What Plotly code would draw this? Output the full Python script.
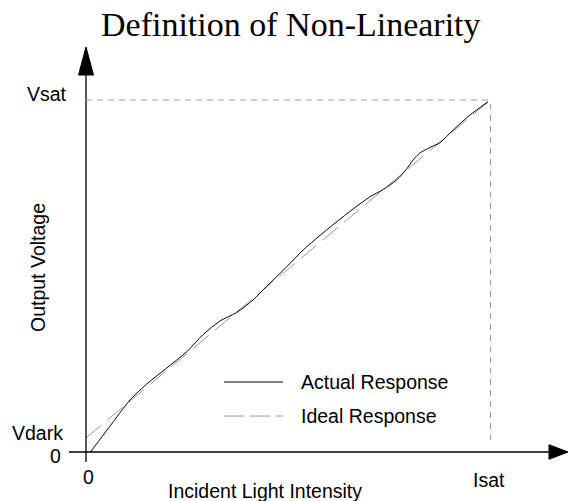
import plotly.graph_objects as go

# ---------------- data ----------------
actual_x = [0.011, 0.0675, 0.109, 0.150, 0.199, 0.249, 0.290, 0.331, 0.372, 0.413,
            0.446, 0.496, 0.537, 0.595, 0.652, 0.702, 0.735, 0.768, 0.792, 0.809,
            0.825, 0.850, 0.875, 0.908, 0.949, 0.994]
actual_y = [0.000, 0.086, 0.148, 0.193, 0.238, 0.285, 0.334, 0.372, 0.396, 0.432,
            0.470, 0.526, 0.574, 0.631, 0.683, 0.725, 0.746, 0.773, 0.803, 0.830,
            0.849, 0.865, 0.879, 0.915, 0.957, 0.995]
ideal_x = [0.0, 1.0]
ideal_y = [0.04, 1.0]

x_tick_vals = [0, 1]
x_tick_text = ["0", "Isat"]
y_tick_vals = [0, 0.04, 1]
y_tick_text = ["0", "Vdark", "Vsat"]

series_names = ["Actual Response", "Ideal Response"]
title_text = "Definition of Non-Linearity"
x_title = "Incident Light Intensity"
y_title = "Output Voltage"

# ---------------- layout geometry ----------------
W, H = 569, 501
X0_PX, X1_PX = 86.0, 490.5     # pixel of x=0 and x=Isat
Y0_PX, Y1_PX = 452.0, 100.0    # pixel of y=0 and y=Vsat
sx = X1_PX - X0_PX
sy = Y0_PX - Y1_PX
x_range = [-X0_PX / sx, (W - X0_PX) / sx]
y_range = [-(H - Y0_PX) / sy, Y0_PX / sy]


def dx(px):  # pixel length -> data units (x)
    return px / sx


def dy(px):  # pixel length -> data units (y)
    return px / sy


def paper_x(px):
    return px / W


def paper_y(px):
    return 1 - px / H


SANS = "Liberation Sans, Arial, Helvetica, sans-serif"
SERIF = "Liberation Serif, Times New Roman, serif"
FS = 19.5
GRAY = "#9a9a9a"

fig = go.Figure()

fig.add_trace(go.Scatter(
    x=ideal_x, y=ideal_y, mode="lines", name=series_names[1],
    line=dict(color=GRAY, width=1, dash="20px,8px"), hoverinfo="skip"))
fig.add_trace(go.Scatter(
    x=actual_x, y=actual_y, mode="lines", name=series_names[0],
    line=dict(color="black", width=1, shape="spline", smoothing=0.8),
    hoverinfo="skip"))

shapes = []
# axes lines
shapes.append(dict(type="line", xref="x", yref="y", x0=0, x1=0,
                   y0=-dy(10), y1=dy(Y0_PX - 75), line=dict(color="black", width=1.3)))
shapes.append(dict(type="line", xref="x", yref="y", x0=-dx(17), x1=dx(549 - X0_PX),
                   y0=0, y1=0, line=dict(color="black", width=1.3)))
# arrow heads
ytip, ybase, hw = dy(Y0_PX - 47), dy(Y0_PX - 75), dx(7.5)
shapes.append(dict(type="path", xref="x", yref="y",
                   path=f"M {-hw},{ybase} L 0,{ytip} L {hw},{ybase} Z",
                   fillcolor="black", line=dict(color="black", width=1)))
xtip, xbase, hh = dx(W - 1 - X0_PX), dx(549 - X0_PX), dy(7.3)
shapes.append(dict(type="path", xref="x", yref="y",
                   path=f"M {xbase},{-hh} L {xtip},0 L {xbase},{hh} Z",
                   fillcolor="black", line=dict(color="black", width=1)))
# saturation guide lines
shapes.append(dict(type="line", xref="x", yref="y", x0=0, x1=x_tick_vals[1],
                   y0=y_tick_vals[2], y1=y_tick_vals[2],
                   line=dict(color=GRAY, width=1, dash="6px,5px")))
shapes.append(dict(type="line", xref="x", yref="y", x0=x_tick_vals[1], x1=x_tick_vals[1],
                   y0=dy(12), y1=y_tick_vals[2],
                   line=dict(color=GRAY, width=1, dash="6px,5px")))
# legend samples
shapes.append(dict(type="line", xref="paper", yref="paper",
                   x0=paper_x(224), x1=paper_x(283), y0=paper_y(382), y1=paper_y(382),
                   line=dict(color="black", width=1)))
shapes.append(dict(type="line", xref="paper", yref="paper",
                   x0=paper_x(224), x1=paper_x(283), y0=paper_y(416), y1=paper_y(416),
                   line=dict(color=GRAY, width=1, dash="20px,6px")))

ann = []
font = dict(family=SANS, size=FS, color="black")
# x tick labels
x_shifts = [(2, -25), (-2, -28)]
for v, t, (xs, ys) in zip(x_tick_vals, x_tick_text, x_shifts):
    ann.append(dict(x=v, y=0, xref="x", yref="y", text=t, showarrow=False,
                    xanchor="center", yanchor="middle", xshift=xs, yshift=ys, font=font))
# y tick labels
y_shifts = [(-23, -4), (-21, 5), (-17, 6)]
for v, t, (xs, ys) in zip(y_tick_vals, y_tick_text, y_shifts):
    ann.append(dict(x=0, y=v, xref="x", yref="y", text=t, showarrow=False,
                    xanchor="right", yanchor="middle", xshift=xs, yshift=ys, font=font))
# legend texts
ann.append(dict(x=paper_x(299), y=paper_y(382), xref="paper", yref="paper",
                text=series_names[0], showarrow=False, xanchor="left", yanchor="middle", font=font))
ann.append(dict(x=paper_x(299), y=paper_y(416), xref="paper", yref="paper",
                text=series_names[1], showarrow=False, xanchor="left", yanchor="middle", font=font))
# axis titles
ann.append(dict(x=paper_x(265), y=paper_y(491), xref="paper", yref="paper",
                text=x_title, showarrow=False, xanchor="center", yanchor="middle", font=font))
ann.append(dict(x=paper_x(38), y=paper_y(268), xref="paper", yref="paper",
                text=y_title, showarrow=False, xanchor="center", yanchor="middle",
                textangle=-90, font=font))
# chart title
ann.append(dict(x=paper_x(291), y=paper_y(24), xref="paper", yref="paper",
                text=title_text, showarrow=False, xanchor="center", yanchor="middle",
                font=dict(family=SERIF, size=34, color="black")))

fig.update_layout(
    width=W, height=H,
    margin=dict(l=0, r=0, t=0, b=0, pad=0),
    paper_bgcolor="white", plot_bgcolor="white",
    showlegend=False,
    xaxis=dict(range=x_range, visible=False, fixedrange=True),
    yaxis=dict(range=y_range, visible=False, fixedrange=True),
    shapes=shapes, annotations=ann,
)

fig.write_html("out.html", config={"displayModeBar": False, "staticPlot": True},
               post_script="document.body.style.margin='0px';")
